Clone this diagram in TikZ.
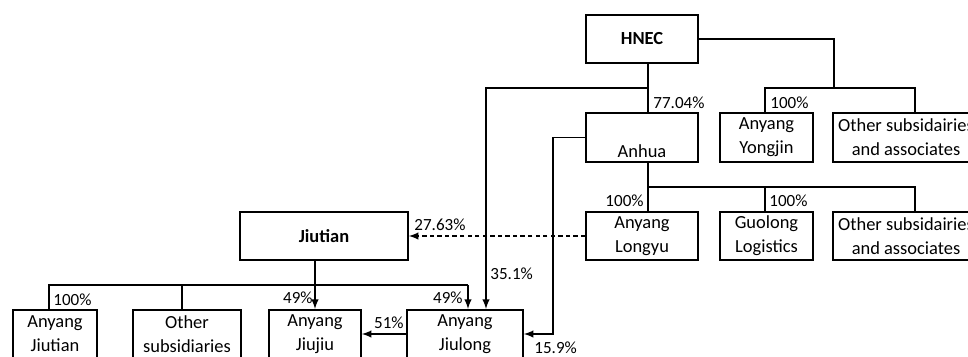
\documentclass[tikz,border=0pt]{standalone}
\usepackage{fontspec}
\setmainfont{Carlito}

\begin{document}

\begin{tikzpicture}[> = latex, x = 0.02cm, y = -0.02cm, line width = 0.9pt,
	font = \fontsize{10.5}{13.5}\selectfont,
	firm/.style = {draw, align = center, inner sep = 0pt, minimum height = 0.97cm},
	share/.style = {font = \fontsize{9.7}{12}\selectfont, inner sep = 1.5pt}]

	% Frame (picture is cut at right and bottom)
	
	\useasboundingbox (0, 0) rectangle (968, 356);
	\clip (0, 0) rectangle (968, 356);
	
	% Companies
	
	\node [firm, minimum width = 2.24cm] (HNEC) at (642, 39) {\textbf{HNEC}};
	
	\node [firm, minimum width = 2.24cm] (Anhua) at (642, 137.5) {\strut\\Anhua};
	\node [firm, minimum width = 1.86cm] (Yongjin) at (766.5, 137.5) {Anyang\\Yongjin};
	\node [firm, minimum width = 2.92cm] (OtherA) at (906, 137.5) {Other subsidairies\\and associates};
	
	\node [firm, minimum width = 2.24cm] (Longyu) at (642, 236) {Anyang\\Longyu};
	\node [firm, minimum width = 1.86cm] (Guolong) at (766.5, 236) {Guolong\\Logistics};
	\node [firm, minimum width = 2.92cm] (OtherB) at (906, 236) {Other subsidairies\\and associates};
	
	\node [firm, minimum width = 3.36cm] (Jiutian) at (324, 236) {\textbf{Jiutian}};
	
	\node [firm, minimum width = 1.68cm] (AJiutian) at (55, 334) {Anyang\\Jiutian};
	\node [firm, minimum width = 2.16cm] (OtherC) at (187, 334) {Other\\subsidiaries};
	\node [firm, minimum width = 1.84cm] (Jiujiu) at (315, 334) {Anyang\\Jiujiu};
	\node [firm, minimum width = 2.32cm] (Jiulong) at (465, 334) {Anyang\\Jiulong};
	
	% HNEC holdings
	
	\coordinate (hnecBus) at (648, 88);
	\coordinate (jlTrunk) at (486, 88);
	\coordinate (rightBus) at (834, 88);
	\coordinate (yjTick) at (765, 88);
	\coordinate (oaTick) at (915, 88);
	
	\draw (HNEC.south -| hnecBus) -- (Anhua.north -| hnecBus);
	\draw [->] (hnecBus) -- (jlTrunk) -- (jlTrunk |- Jiulong.north);
	\draw (HNEC.east) -| (rightBus);
	\draw (yjTick |- Yongjin.north) -- (yjTick) -- (oaTick) -- (oaTick |- OtherA.north);
	
	\node [share, anchor = west] (p7704) at (650, 103) {77.04\%};
	\node [share, anchor = west] (p100a) at (767, 103) {100\%};
	\node [share, anchor = west] (p351) at (487, 274) {35.1\%};
	
	% Anhua holdings
	
	\coordinate (lyTick) at (648, 187);
	\coordinate (glTick) at (765, 187);
	\coordinate (obTick) at (915, 187);
	
	\draw (Anhua.south -| lyTick) -- (lyTick |- Longyu.north);
	\draw (lyTick) -- (obTick) -- (obTick |- OtherB.north);
	\draw (glTick) -- (glTick |- Guolong.north);
	\draw [->] (Anhua.west) -- ++(-32, 0) |- (Jiulong.east);
	\draw [->, dash pattern = on 2.5pt off 1.8pt] (Longyu.west) -- (Jiutian.east);
	
	\node [share, anchor = east] (p100b) at (647, 201) {100\%};
	\node [share, anchor = west] (p100c) at (766, 201) {100\%};
	\node [share, anchor = west] (p2763) at (411, 225) {27.63\%};
	\node [share, anchor = west] (p159) at (531, 348) {15.9\%};
	
	% Jiutian holdings
	
	\coordinate (ajTick) at (49, 285);
	\coordinate (ocTick) at (182, 285);
	\coordinate (jlTick) at (468, 285);
	
	\draw (ajTick |- AJiutian.north) -- (ajTick) -- (jlTick);
	\draw [->] (jlTick) -- (jlTick |- Jiulong.north);
	\draw (ocTick) -- (ocTick |- OtherC.north);
	\draw [->] (Jiujiu.north |- Jiutian.south) -- (Jiujiu.north);
	\draw [->] (Jiulong.west) -- (Jiujiu.east);
	
	\node [share, anchor = west] (p100d) at (50, 300) {100\%};
	\node [share, anchor = east] (p49a) at (316, 298) {49\%};
	\node [share, anchor = east] (p49b) at (466, 298) {49\%};
	\node [share, anchor = east] (p51) at (407, 323) {51\%};

\end{tikzpicture}

\end{document}
